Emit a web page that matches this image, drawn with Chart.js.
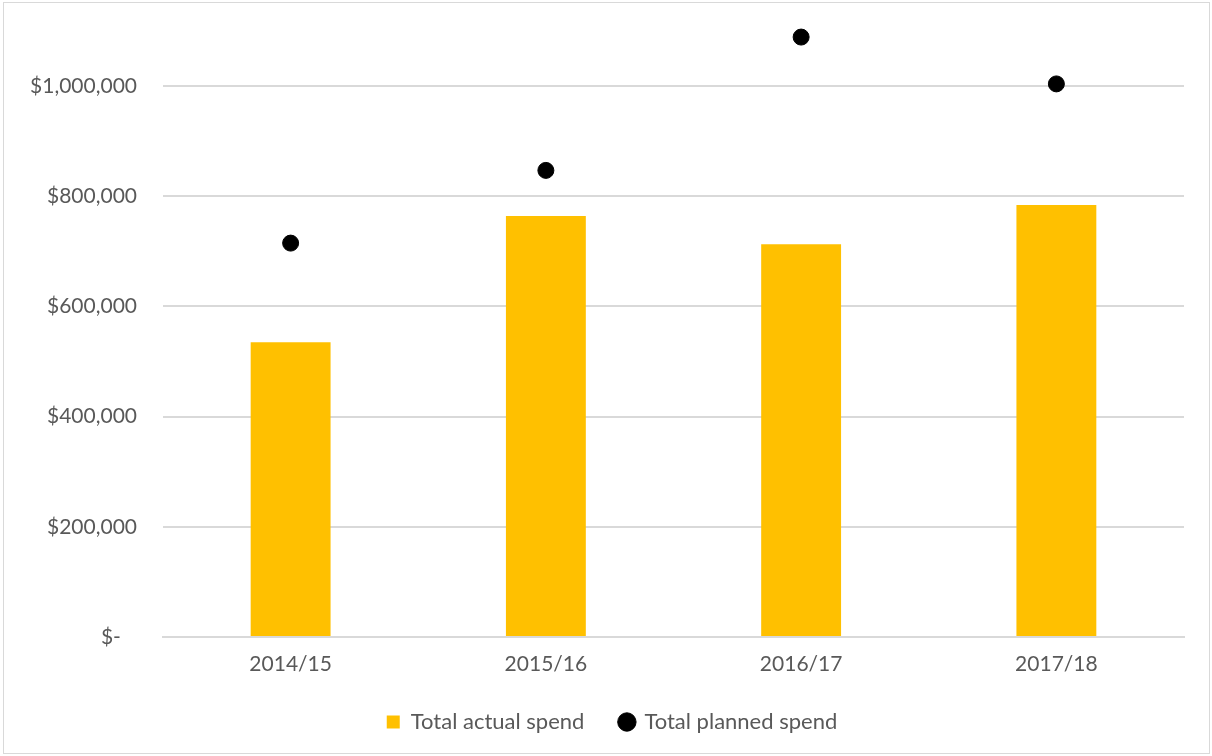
<!DOCTYPE html>
<html>
<head>
<meta charset="utf-8">
<script src="https://cdn.jsdelivr.net/npm/chart.js@4"></script>
<style>
  body { margin: 0; background: #fff; }
  #wrap { position: absolute; left: 3px; top: 2px; width: 1205px; height: 750px; border: 1px solid #d9d9d9; }
</style>
</head>
<body>
<div id="wrap"><canvas id="spendChart" width="1205" height="750"></canvas></div>
<script>
const years = ["2014/15", "2015/16", "2016/17", "2017/18"];
const actualSpend = [535000, 764000, 713000, 784000];
const plannedSpend = [715000, 847000, 1089000, 1004000];
const yTicks = [0, 200000, 400000, 600000, 800000, 1000000];

function money(v) {
  if (v === 0) return "$-\u00a0\u00a0\u00a0";
  return "$" + v.toLocaleString("en-US");
}

// legend sits centred under the plot area, not the whole canvas
const shiftLegend = {
  id: "shiftLegend",
  afterLayout(chart) {
    chart.legend.left += 18;
    chart.legend.right += 18;
  }
};

const ctx = document.getElementById("spendChart");
new Chart(ctx, {
  type: "bar",
  data: {
    labels: years,
    datasets: [{
      label: "Total actual spend",
      data: actualSpend,
      backgroundColor: "#ffc000",
      barPercentage: 0.313,
      categoryPercentage: 1,
      pointStyle: "rect"
    }, {
      type: "line",
      label: "Total planned spend",
      data: plannedSpend,
      showLine: false,
      pointRadius: 8,
      pointBackgroundColor: "#000",
      pointBorderColor: "#000",
      backgroundColor: "#000",
      borderColor: "#000",
      pointStyle: "circle",
      clip: false
    }]
  },
  plugins: [shiftLegend],
  options: {
    responsive: false,
    animation: false,
    layout: { autoPadding: false, padding: { left: 0, right: 25, top: 17, bottom: 10 } },
    font: { family: "Lato" },
    plugins: {
      tooltip: { enabled: false },
      legend: {
        position: "bottom",
        labels: {
          usePointStyle: true,
          boxHeight: 13,
          boxWidth: 13,
          padding: 36,
          color: "#595959",
          font: { family: "Lato", size: 22 }
        }
      }
    },
    scales: {
      x: {
        afterFit: (scale) => { scale.height = 38; },
        grid: { display: false, drawTicks: false },
        border: { color: "#d9d9d9", width: 2 },
        ticks: { color: "#595959", padding: 15, font: { family: "Lato", size: 21 } }
      },
      y: {
        min: 0,
        max: 1120000,
        afterBuildTicks: (scale) => { scale.ticks = yTicks.map((v) => ({ value: v })); },
        afterFit: (scale) => { scale.width = 159; scale.paddingTop = 0; },
        grid: { color: "#d9d9d9", lineWidth: 2, drawTicks: false },
        border: { display: false },
        ticks: {
          color: "#595959",
          padding: 26,
          font: { family: "Lato", size: 21 },
          callback: (v) => money(v)
        }
      }
    }
  }
});
</script>
</body>
</html>
